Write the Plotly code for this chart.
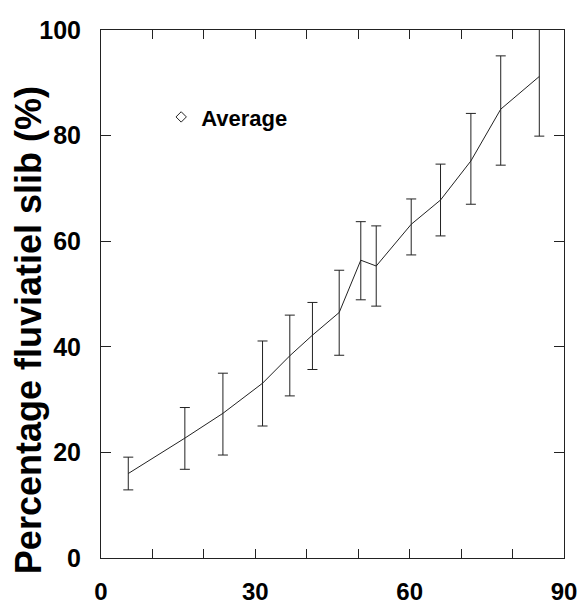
import plotly.graph_objects as go

x_vals = [5.3, 16.3, 23.7, 31.4, 36.7, 41.1, 46.3, 50.5, 53.5, 60.3, 66.0, 71.9, 77.7, 85.2]
y_avg = [16.0, 22.7, 27.4, 33.1, 38.3, 42.2, 46.5, 56.4, 55.3, 63.2, 67.8, 75.2, 85.0, 91.2]
y_upper = [19.1, 28.5, 35.0, 41.1, 46.0, 48.4, 54.5, 63.7, 62.9, 68.0, 74.6, 84.2, 95.1, 100.5]
y_lower = [12.9, 16.8, 19.5, 25.0, 30.7, 35.7, 38.4, 48.9, 47.7, 57.4, 61.0, 67.0, 74.4, 79.9]

x_ticks = [0, 10, 20, 30, 40, 50, 60, 70, 80, 90]
x_labels = ["0", "", "", "30", "", "", "60", "", "", "90"]
y_ticks = [0, 20, 40, 60, 80, 100]

err_plus = [u - a for u, a in zip(y_upper, y_avg)]
err_minus = [a - l for a, l in zip(y_avg, y_lower)]

FONT = "Liberation Sans, Arial, Helvetica, sans-serif"

fig = go.Figure()
fig.add_trace(go.Scatter(
    x=x_vals, y=y_avg, mode="lines",
    line=dict(color="#222", width=1),
    error_y=dict(type="data", symmetric=False, array=err_plus, arrayminus=err_minus,
                 color="#222", thickness=1, width=5),
    showlegend=False, cliponaxis=False,
))
fig.add_trace(go.Scatter(
    x=[None], y=[None], mode="markers", name="<b>Average</b>",
    marker=dict(symbol="diamond-open", size=8, color="#222", line=dict(width=1)),
))

fig.update_layout(
    width=584, height=607,
    margin=dict(l=101, r=20, t=30, b=49, autoexpand=False),
    paper_bgcolor="white", plot_bgcolor="white",
    font=dict(family=FONT, color="black"),
    legend=dict(x=0.13, y=0.835, xanchor="left", yanchor="middle",
                font=dict(size=22, family=FONT), bgcolor="rgba(0,0,0,0)",
                itemwidth=30),
    annotations=[dict(
        text="<b>Percentage fluviatiel slib (%)</b>", textangle=-90,
        xref="paper", yref="paper", x=-0.155, y=0.432,
        xanchor="center", yanchor="middle", showarrow=False,
        font=dict(size=36, family=FONT, color="black"),
    )],
)
fig.update_xaxes(
    range=[0, 90], tickvals=x_ticks, ticktext=[f"<b>{t}</b>" if t else "" for t in x_labels],
    ticks="inside", ticklen=9, tickcolor="#222",
    showline=True, linecolor="#222", linewidth=1, mirror="ticks",
    showgrid=False, zeroline=False, automargin=False,
    tickfont=dict(size=24, family=FONT), ticklabelstandoff=12,
)
fig.update_yaxes(
    range=[0, 100], tickvals=y_ticks, ticktext=[f"<b>{v}</b>" for v in y_ticks],
    ticks="inside", ticklen=10, tickcolor="#222",
    showline=True, linecolor="#222", linewidth=1, mirror="ticks",
    showgrid=False, zeroline=False, automargin=False,
    tickfont=dict(size=25, family=FONT), ticklabelstandoff=14,
)

fig.write_html("out.html")
